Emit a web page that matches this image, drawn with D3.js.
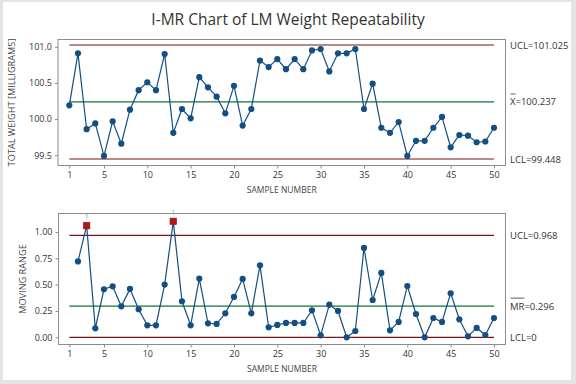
<!DOCTYPE html>
<html>
<head>
<meta charset="utf-8">
<script src="https://cdn.jsdelivr.net/npm/d3@7"></script>
<style>
  body { margin: 0; background: #fff; }
  svg { display: block; font-family: "Open Sans", "Noto Sans", sans-serif; }
</style>
</head>
<body>
<script>
var width = 576, height = 384;

// sample numbers 1..50
var samples = d3.range(1, 51);
var xTicks = [1, 5, 10, 15, 20, 25, 30, 35, 40, 45, 50];

// individual observations (mg)
var individual = [100.19, 100.91, 99.86, 99.94, 99.49, 99.97, 99.66, 100.13, 100.40, 100.51,
                  100.40, 100.90, 99.81, 100.14, 100.01, 100.58, 100.44, 100.31, 100.08, 100.46,
                  99.91, 100.14, 100.81, 100.72, 100.83, 100.69, 100.83, 100.69, 100.95, 100.97,
                  100.66, 100.91, 100.91, 100.97, 100.14, 100.49, 99.88, 99.81, 99.96, 99.49,
                  99.70, 99.70, 99.88, 100.03, 99.61, 99.78, 99.77, 99.68, 99.69, 99.88];
var iTicks = [99.5, 100.0, 100.5, 101.0];
var iLimits = {ucl: 101.025, center: 100.237, lcl: 99.448};

// moving ranges, sample 2..50
var movingRange = [0.72, 1.06, 0.085, 0.456, 0.484, 0.294, 0.459, 0.266, 0.114,
                   0.114, 0.50, 1.10, 0.342, 0.114, 0.557, 0.133, 0.127, 0.228, 0.383,
                   0.554, 0.228, 0.683, 0.095, 0.117, 0.136, 0.136, 0.136, 0.256, 0.019,
                   0.31, 0.25, 0.0, 0.06, 0.848, 0.354, 0.611, 0.066, 0.146, 0.487,
                   0.221, 0.0, 0.183, 0.146, 0.418, 0.171, 0.009, 0.089, 0.022, 0.183];
var mrTicks = [0.00, 0.25, 0.50, 0.75, 1.00];
var mrLimits = {ucl: 0.968, center: 0.296, lcl: 0};

var frameCol = "#8c8c8c", limitCol = "#7b1414", centerCol = "#12733a",
    dataCol = "#134f82", textCol = "#333";

var svg = d3.select("body").append("svg")
    .attr("width", width)
    .attr("height", height);

svg.append("rect").attr("width", width).attr("height", height).attr("fill", "#e4e4e4");
svg.append("rect").attr("x", 3).attr("y", 2).attr("width", 568).attr("height", 378).attr("fill", "#fff");

svg.append("text")
    .attr("x", 288).attr("y", 25)
    .attr("text-anchor", "middle")
    .attr("font-size", "15.5px")
    .attr("fill", textCol)
    .text("I-MR Chart of LM Weight Repeatability");

var xScale = d3.scaleLinear().domain([1, 50]).range([69.3, 494]);

function drawPanel(opt) {
  var g = svg.append("g");
  var y = opt.y;

  g.append("rect")
      .attr("x", opt.left).attr("y", opt.top)
      .attr("width", opt.right - opt.left).attr("height", opt.bottom - opt.top)
      .attr("fill", "none").attr("stroke", frameCol).attr("stroke-width", 1);

  // axes
  var yAxis = d3.axisLeft(y).tickValues(opt.ticks).tickFormat(d3.format(opt.fmt))
      .tickSize(3).tickPadding(3);
  var ya = g.append("g").attr("transform", "translate(" + opt.left + ",0)").call(yAxis);
  var xAxis = d3.axisBottom(xScale).tickValues(xTicks).tickSize(3).tickPadding(3);
  var xa = g.append("g").attr("transform", "translate(0," + opt.bottom + ")").call(xAxis);
  [ya, xa].forEach(function(a) {
    a.select(".domain").remove();
    a.selectAll("line").attr("stroke", frameCol);
    a.selectAll("text").attr("font-size", "9px").attr("fill", textCol)
        .attr("font-family", "'Open Sans', sans-serif");
  });

  g.append("text")
      .attr("x", (opt.left + opt.right) / 2).attr("y", opt.bottom + 27)
      .attr("text-anchor", "middle").attr("font-size", "8.5px").attr("fill", "#444")
      .text("SAMPLE NUMBER");

  g.append("text")
      .attr("transform", "translate(" + opt.ylabX + "," + ((opt.top + opt.bottom) / 2) + ") rotate(-90)")
      .attr("text-anchor", "middle").attr("font-size", "9.2px").attr("fill", "#444")
      .text(opt.ylabel);

  // control limits
  var lim = opt.limits;
  [["ucl", limitCol], ["center", centerCol], ["lcl", limitCol]].forEach(function(l) {
    g.append("line")
        .attr("x1", xScale(1)).attr("x2", xScale(50))
        .attr("y1", y(lim[l[0]])).attr("y2", y(lim[l[0]]))
        .attr("stroke", l[1]).attr("stroke-width", 1.2);
  });

  var lab = g.append("g").attr("font-size", "9.5px").attr("fill", textCol);
  lab.append("text").attr("x", 510).attr("y", y(lim.ucl) + 3.5).text(opt.uclText);
  lab.append("text").attr("x", 510).attr("y", y(lim.lcl) + 3.5).text(opt.lclText);
  lab.append("text").attr("x", 510).attr("y", y(lim.center) + 3.5).text(opt.centerText);
  lab.append("line")
      .attr("x1", 510.5).attr("x2", 510.5 + opt.barW)
      .attr("y1", y(lim.center) - 8).attr("y2", y(lim.center) - 8)
      .attr("stroke", textCol).attr("stroke-width", 0.8);

  // data
  var pts = opt.data;
  g.append("path")
      .datum(pts)
      .attr("fill", "none").attr("stroke", dataCol).attr("stroke-width", 1.2)
      .attr("d", d3.line().x(function(d) { return xScale(d.x); }).y(function(d) { return y(d.v); }));

  var normal = pts.filter(function(d) { return d.v <= lim.ucl; });
  var flagged = pts.filter(function(d) { return d.v > lim.ucl; });

  g.selectAll("circle.pt").data(normal).enter().append("circle")
      .attr("class", "pt")
      .attr("cx", function(d) { return xScale(d.x); })
      .attr("cy", function(d) { return y(d.v); })
      .attr("r", 3.1).attr("fill", dataCol);

  g.selectAll("rect.flag").data(flagged).enter().append("rect")
      .attr("class", "flag")
      .attr("x", function(d) { return xScale(d.x) - 3.3; })
      .attr("y", function(d) { return y(d.v) - 3.3; })
      .attr("width", 6.6).attr("height", 6.6)
      .attr("fill", "#b01818").attr("stroke", "#8a1010").attr("stroke-width", 0.5);

  g.selectAll("text.flag").data(flagged).enter().append("text")
      .attr("class", "flag")
      .attr("x", function(d) { return xScale(d.x); })
      .attr("y", function(d) { return y(d.v) - 6.5; })
      .attr("text-anchor", "middle").attr("font-size", "7px").attr("fill", "#8aa2ba")
      .text("1");
}

// I chart
var yI = d3.scaleLinear().domain([iLimits.lcl, iLimits.ucl]).range([159, 45]);
drawPanel({
  left: 58, right: 505.5, top: 39.5, bottom: 165.5,
  y: yI, ticks: iTicks, fmt: ".1f", limits: iLimits,
  ylabX: 15, ylabel: "TOTAL WEIGHT [MILLIGRAMS]",
  uclText: "UCL=101.025", lclText: "LCL=99.448", centerText: "X=100.237", barW: 5,
  data: individual.map(function(v, i) { return {x: samples[i], v: v}; })
});

// MR chart
var yMR = d3.scaleLinear().domain([mrLimits.lcl, mrLimits.ucl]).range([337.3, 235.3]);
drawPanel({
  left: 58.5, right: 505.5, top: 213.5, bottom: 344.5,
  y: yMR, ticks: mrTicks, fmt: ".2f", limits: mrLimits,
  ylabX: 26, ylabel: "MOVING RANGE",
  uclText: "UCL=0.968", lclText: "LCL=0", centerText: "MR=0.296", barW: 14,
  data: movingRange.map(function(v, i) { return {x: samples[i + 1], v: v}; })
});
</script>
</body>
</html>
